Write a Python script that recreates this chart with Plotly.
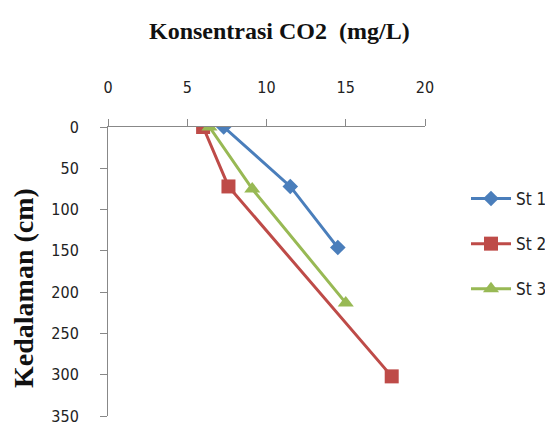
import plotly.graph_objects as go

# Data
stations = ["St 1", "St 2", "St 3"]
co2_st1 = [7.3, 11.5, 14.5]
depth_st1 = [0, 72, 146]
co2_st2 = [6.0, 7.6, 17.9]
depth_st2 = [0, 72, 302]
co2_st3 = [6.4, 9.1, 15.0]
depth_st3 = [0, 75, 213]

x_ticks = [0, 5, 10, 15, 20]
y_ticks = [0, 50, 100, 150, 200, 250, 300, 350]

colors = ["#4A7EBB", "#BE4B48", "#98B954"]
symbols = ["diamond", "square", "triangle-up"]
sizes = [12, 14, 14]

series_x = [co2_st1, co2_st2, co2_st3]
series_y = [depth_st1, depth_st2, depth_st3]

fig = go.Figure()
for name, xs, ys, c, s, sz in zip(stations, series_x, series_y, colors, symbols, sizes):
    fig.add_trace(go.Scatter(
        x=xs, y=ys, name=name, mode="lines+markers",
        line=dict(color=c, width=3),
        marker=dict(symbol=s, size=sz, color=c),
        legendgroup=name,
    ))

tick_font = dict(family="DejaVu Sans Condensed, Open Sans, sans-serif", size=16, color="#222")

# page body has an 8px margin; plot area spans x 108..425, y 127..416 on the page
W, H = 545, 419
L, R, T, B = 100, 128, 119, 11
pw, ph = W - L - R, H - T - B

def px_x(px):
    return (px - 8 - L) / pw

def px_y(py):
    return 1 - (py - 8 - T) / ph

fig.update_layout(
    width=W, height=H,
    margin=dict(l=L, r=R, t=T, b=B, autoexpand=False),
    paper_bgcolor="white", plot_bgcolor="white",
    showlegend=True,
    legend=dict(x=px_x(466), y=px_y(181), xanchor="left", yanchor="top",
                font=dict(family="DejaVu Sans Condensed, Open Sans, sans-serif", size=17, color="#222"),
                tracegroupgap=20, itemwidth=40, borderwidth=0, bgcolor="rgba(0,0,0,0)"),
    xaxis=dict(range=[0, 20], side="top", tickvals=x_ticks, showgrid=False, zeroline=False,
               showline=True, linecolor="#888", linewidth=1, ticks="outside", ticklen=7,
               tickcolor="#888", tickfont=tick_font, ticklabelstandoff=20, automargin=False),
    yaxis=dict(range=[350, 0], tickvals=y_ticks, showgrid=False, zeroline=False,
               showline=True, linecolor="#888", linewidth=1, ticks="outside", ticklen=7,
               tickcolor="#888", tickfont=tick_font, ticklabelstandoff=18, automargin=False,
               ticklabeloverflow="allow"),
    annotations=[
        dict(text="<b>Konsentrasi CO2  (mg/L)</b>", xref="paper", yref="paper",
             x=px_x(279), y=px_y(31), xanchor="center", yanchor="middle",
             showarrow=False, font=dict(family="Liberation Serif, serif", size=24, color="#111")),
        dict(text="<b>Kedalaman (cm)</b>", xref="paper", yref="paper",
             x=px_x(23), y=px_y(288), xanchor="center", yanchor="middle",
             textangle=-90, showarrow=False,
             font=dict(family="Liberation Serif, serif", size=28, color="#111")),
    ],
)

fig.write_html("out.html")
